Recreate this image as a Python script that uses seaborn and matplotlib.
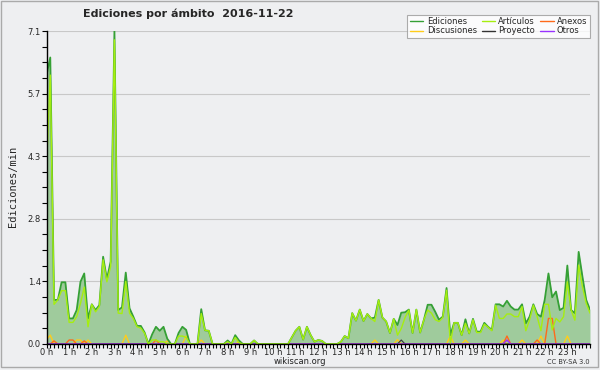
import numpy as np
import pandas as pd
import matplotlib
matplotlib.use("Agg")
import matplotlib.pyplot as plt
import seaborn as sns
from matplotlib.patches import Rectangle
from matplotlib.lines import Line2D
from matplotlib.ticker import FixedLocator, MultipleLocator, FuncFormatter

# ---- data: edits per minute, 10-minute bins from 00:00 to 24:00 ----
ediciones = [
    6.1, 6.5, 1.0, 1.0, 1.40, 1.40,
    0.58, 0.58, 0.77, 1.41, 1.60, 0.58,
    0.90, 0.77, 0.88, 1.98, 1.47, 1.87,
    7.1, 0.77, 0.83, 1.62, 0.81, 0.62,
    0.41, 0.41, 0.26, 0.0, 0.22, 0.39,
    0.30, 0.39, 0.12, 0.0, 0.0, 0.25,
    0.39, 0.32, 0.0, 0.0, 0.0, 0.79,
    0.31, 0.30, 0.0, 0.0, 0.0, 0.0,
    0.08, 0.0, 0.20, 0.08, 0.0, 0.0,
    0.0, 0.08, 0.0, 0.0, 0.0, 0.0,
    0.0, 0.0, 0.0, 0.0, 0.0, 0.15,
    0.30, 0.39, 0.10, 0.39, 0.20, 0.05,
    0.09, 0.07, 0.0, 0.0, 0.0, 0.0,
    0.05, 0.18, 0.13, 0.70, 0.53, 0.78,
    0.52, 0.68, 0.58, 0.60, 1.0, 0.60,
    0.51, 0.25, 0.57, 0.43, 0.71, 0.72,
    0.78, 0.25, 0.78, 0.26, 0.55, 0.89,
    0.89, 0.73, 0.55, 0.62, 1.27, 0.20,
    0.48, 0.48, 0.20, 0.56, 0.24, 0.57,
    0.28, 0.28, 0.48, 0.39, 0.32, 0.90,
    0.90, 0.85, 0.98, 0.85, 0.78, 0.78,
    0.90, 0.47, 0.62, 0.90, 0.68, 0.62,
    1.0, 1.60, 1.06, 1.19, 0.77, 0.82,
    1.78, 0.77, 0.70, 2.09, 1.53, 1.0,
    0.78,
]
articulos = [
    4.0, 6.1, 0.9, 1.0, 1.21, 1.21,
    0.49, 0.49, 0.62, 0.92, 1.29, 0.39,
    0.90, 0.73, 0.85, 1.91, 1.41, 1.76,
    6.9, 0.70, 0.69, 1.42, 0.70, 0.58,
    0.39, 0.36, 0.24, 0.0, 0.09, 0.09,
    0.05, 0.05, 0.0, 0.0, 0.0, 0.18,
    0.18, 0.15, 0.0, 0.0, 0.0, 0.69,
    0.31, 0.30, 0.0, 0.0, 0.0, 0.0,
    0.05, 0.0, 0.15, 0.03, 0.0, 0.0,
    0.0, 0.08, 0.0, 0.0, 0.0, 0.0,
    0.0, 0.0, 0.0, 0.0, 0.0, 0.15,
    0.30, 0.39, 0.10, 0.39, 0.20, 0.05,
    0.09, 0.07, 0.0, 0.0, 0.0, 0.0,
    0.05, 0.18, 0.13, 0.70, 0.53, 0.78,
    0.52, 0.68, 0.58, 0.51, 1.0, 0.60,
    0.51, 0.25, 0.57, 0.20, 0.35, 0.60,
    0.77, 0.25, 0.78, 0.26, 0.55, 0.77,
    0.70, 0.55, 0.51, 0.60, 1.22, 0.02,
    0.48, 0.48, 0.20, 0.47, 0.24, 0.55,
    0.26, 0.26, 0.45, 0.38, 0.30, 0.88,
    0.58, 0.58, 0.68, 0.68, 0.62, 0.62,
    0.85, 0.30, 0.55, 0.88, 0.62, 0.30,
    0.90, 0.90, 0.32, 0.58, 0.50, 0.62,
    1.41, 0.77, 0.54, 1.79, 1.30, 0.92,
    0.70,
]
discusiones = [
    0.1, 0.2, 0, 0, 0, 0,
    0, 0, 0.09, 0.09, 0, 0.09,
    0, 0, 0, 0, 0, 0,
    0, 0, 0, 0.2, 0, 0,
    0, 0, 0, 0, 0, 0,
    0, 0, 0.07, 0, 0, 0,
    0, 0.18, 0, 0, 0, 0.09,
    0, 0, 0, 0, 0, 0,
    0, 0, 0, 0.05, 0, 0,
    0, 0, 0, 0, 0, 0,
    0, 0, 0, 0, 0, 0,
    0, 0, 0, 0, 0, 0,
    0, 0, 0, 0, 0, 0,
    0, 0, 0, 0, 0, 0,
    0, 0, 0, 0.09, 0, 0,
    0, 0, 0, 0.1, 0, 0,
    0, 0, 0, 0, 0, 0,
    0, 0, 0, 0, 0, 0.18,
    0, 0, 0, 0.09, 0, 0,
    0, 0, 0, 0, 0, 0,
    0, 0.09, 0, 0, 0, 0,
    0.09, 0, 0, 0, 0, 0.18,
    0, 0, 0, 0, 0, 0,
    0.18, 0, 0, 0, 0, 0,
    0,
]
anexos = [
    0, 0, 0.07, 0, 0, 0,
    0.09, 0.09, 0, 0, 0.07, 0,
    0, 0, 0, 0, 0, 0,
    0, 0, 0, 0, 0, 0,
    0, 0, 0, 0, 0, 0.09,
    0, 0, 0, 0, 0, 0,
    0, 0, 0, 0, 0, 0,
    0, 0, 0, 0, 0, 0,
    0, 0, 0, 0, 0, 0,
    0, 0, 0, 0, 0, 0,
    0, 0, 0, 0, 0, 0,
    0, 0, 0, 0, 0, 0,
    0, 0, 0, 0, 0, 0,
    0, 0, 0, 0, 0, 0,
    0, 0, 0, 0, 0, 0,
    0, 0, 0, 0, 0, 0,
    0, 0, 0, 0, 0, 0,
    0, 0, 0, 0, 0, 0,
    0, 0, 0, 0, 0, 0,
    0, 0, 0, 0, 0, 0,
    0, 0, 0.18, 0, 0, 0,
    0, 0, 0, 0, 0.09, 0,
    0, 0.58, 0.58, 0, 0, 0,
    0, 0, 0, 0, 0, 0,
    0,
]
proyecto = [0.0] * 94 + [0.09] + [0.0] * 50
otros = [0.0] * 122 + [0.09] + [0.0] * 22

hour_labels = [f"{h} h" for h in range(24)]
y_max = 7.1

hours = np.arange(len(ediciones)) / 6.0
df = pd.DataFrame({
    "hora": hours,
    "Ediciones": ediciones,
    "Artículos": articulos,
    "Anexos": anexos,
    "Discusiones": discusiones,
    "Proyecto": proyecto,
    "Otros": otros,
})

BG = "#eeeff1"
FILL = "#9fcb9c"
colors = {
    "Ediciones": "#35a035",
    "Artículos": "#a6ee10",
    "Anexos": "#ff6a1a",
    "Discusiones": "#ffcc1a",
    "Proyecto": "#333333",
    "Otros": "#9933ff",
}

sns.set_style("white")
plt.rcParams["font.family"] = ["DejaVu Sans"]

fig = plt.figure(figsize=(6.0, 3.7), dpi=100, facecolor=BG)
ax = fig.add_axes([0.0775, 0.0703, 0.9058, 0.8459])
ax.set_facecolor(BG)

ax.fill_between(df["hora"], df["Ediciones"], color=FILL, lw=0, zorder=1)
for name, lw, z in [("Discusiones", 1.0, 3), ("Anexos", 1.0, 3), ("Proyecto", 0.8, 3),
                    ("Otros", 1.0, 3), ("Ediciones", 1.3, 4), ("Artículos", 1.0, 5)]:
    sns.lineplot(data=df, x="hora", y=name, ax=ax, color=colors[name], lw=lw,
                 zorder=z, legend=False)

ax.set_xlim(0, 24)
ax.set_ylim(0, y_max)

ax.xaxis.set_major_locator(FixedLocator(list(range(24))))
ax.set_xticklabels(hour_labels)
ax.xaxis.set_minor_locator(MultipleLocator(1 / 6))
yt = [y_max * k / 5 for k in range(6)]
ax.yaxis.set_major_locator(FixedLocator(yt))
ax.yaxis.set_major_formatter(FuncFormatter(lambda v, p: f"{v:.1f}"))
ax.yaxis.set_minor_locator(MultipleLocator(y_max / 20))
ax.tick_params(axis="both", which="both", direction="out", length=3.5, width=0.8,
               color="black", labelsize=6.0)
ax.tick_params(axis="x", which="both", bottom=True, length=3, pad=-0.3)
ax.tick_params(axis="y", which="both", left=True, pad=0.5)

ax.grid(axis="y", which="major", color="#c8c8c8", lw=0.8, zorder=0)
ax.grid(axis="x", visible=False)
for s in ["top", "right"]:
    ax.spines[s].set_visible(False)
for s in ["left", "bottom"]:
    ax.spines[s].set_color("black")
    ax.spines[s].set_linewidth(1.0)
    ax.spines[s].set_zorder(6)

ax.set_xlabel("")
ax.set_ylabel("")
fig.text(0.021, 0.495, "Ediciones/min", family="DejaVu Sans Mono", fontsize=7.5,
         rotation=90, ha="center", va="center")

fig.text(0.313, 0.962, "Ediciones por ámbito  2016-11-22", fontsize=8.0,
         fontweight="bold", ha="center", va="center")
fig.text(0.5, 0.024, "wikiscan.org", fontsize=6.0, ha="center", va="center", color="#222222")
fig.text(0.983, 0.022, "CC BY-SA 3.0", fontsize=4.8, ha="right", va="center", color="#333333")

order = ["Ediciones", "Discusiones", "Artículos", "Proyecto", "Anexos", "Otros"]
handles = [Line2D([0], [0], color=colors[n], lw=1.0) for n in order]
leg = fig.legend(handles, order, ncol=3, loc="upper right",
                 bbox_to_anchor=(0.99, 0.972), fontsize=6.0, frameon=True,
                 handlelength=1.6, handletextpad=0.4, columnspacing=0.6,
                 labelspacing=0.05, borderpad=0.3, fancybox=False, shadow=False)
leg.get_frame().set_facecolor("white")
leg.get_frame().set_edgecolor("#999999")
leg.get_frame().set_linewidth(0.8)

fig.patches.append(Rectangle((0.002, 0.008), 0.994, 0.99, transform=fig.transFigure,
                             fill=False, edgecolor="#aaaaaa", lw=1.0))

fig.savefig("out.png", dpi=100, facecolor=BG)
